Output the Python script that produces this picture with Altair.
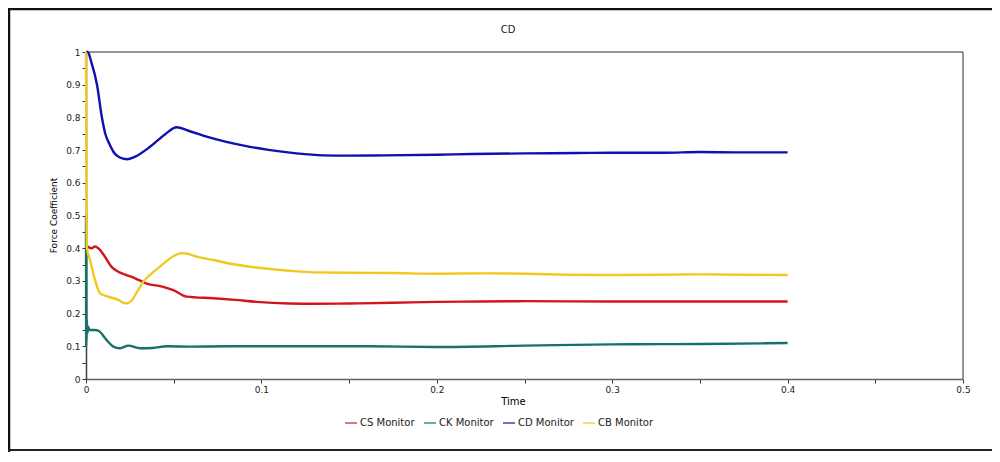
import altair as alt
import pandas as pd

# ---- data ----
series_names = ["CS Monitor", "CK Monitor", "CD Monitor", "CB Monitor"]
series_colors = ["#d3141c", "#17706a", "#1010b0", "#f2c81e"]
chart_title = "CD"

cs_t = [0, 0.0004, 0.003, 0.0051, 0.007, 0.0108, 0.0146, 0.0184, 0.023, 0.028, 0.0346, 0.044,
        0.0498, 0.0574, 0.0726, 0.085, 0.0973, 0.116, 0.13, 0.15, 0.175, 0.2, 0.225, 0.25, 0.3, 0.35, 0.4]
cs_v = [0.40, 0.405, 0.40, 0.405, 0.40, 0.374, 0.343, 0.328, 0.318, 0.308, 0.292, 0.282,
        0.272, 0.252, 0.247, 0.242, 0.236, 0.231, 0.230, 0.231, 0.233, 0.236, 0.237, 0.238, 0.237, 0.237, 0.237]

ck_t = [0, 0.0001, 0.0002, 0.0003, 0.0005, 0.0008, 0.0012, 0.002, 0.005, 0.007, 0.0118, 0.0156,
        0.0194, 0.0241, 0.0308, 0.038, 0.046, 0.06, 0.08, 0.1, 0.13, 0.16, 0.2, 0.25, 0.3, 0.35, 0.4]
ck_v = [0.5, 0.1, 0.4, 0.12, 0.18, 0.14, 0.16, 0.15, 0.15, 0.148, 0.119, 0.099,
        0.094, 0.102, 0.094, 0.095, 0.100, 0.099, 0.100, 0.100, 0.100, 0.100, 0.098, 0.102, 0.106, 0.107, 0.110]

cd_t = [0, 0.001, 0.003, 0.0063, 0.009, 0.011, 0.0137, 0.016, 0.019, 0.0232, 0.028, 0.0365, 0.045,
        0.0517, 0.058, 0.0688, 0.08, 0.0935, 0.105, 0.12, 0.135, 0.15, 0.17, 0.2, 0.22, 0.25, 0.28,
        0.3, 0.33, 0.35, 0.37, 0.4]
cd_v = [1.0, 1.0, 0.97, 0.899, 0.802, 0.75, 0.715, 0.692, 0.678, 0.672, 0.68, 0.71, 0.748,
        0.770, 0.76, 0.741, 0.725, 0.710, 0.700, 0.690, 0.684, 0.683, 0.684, 0.686, 0.688, 0.690, 0.691,
        0.692, 0.692, 0.694, 0.693, 0.693]

cb_t = [0, 0.0002, 0.0004, 0.0023, 0.0051, 0.008, 0.0127, 0.0184, 0.0228, 0.026, 0.0295, 0.033,
        0.038, 0.044, 0.05, 0.0545, 0.058, 0.062, 0.0725, 0.085, 0.0973, 0.116, 0.13, 0.15, 0.175,
        0.2, 0.225, 0.25, 0.275, 0.3, 0.325, 0.35, 0.375, 0.4]
cb_v = [1.0, 0.7, 0.405, 0.364, 0.303, 0.262, 0.252, 0.242, 0.231, 0.24, 0.27, 0.30,
        0.325, 0.352, 0.376, 0.385, 0.383, 0.376, 0.364, 0.350, 0.341, 0.331, 0.326, 0.325, 0.324,
        0.322, 0.323, 0.322, 0.319, 0.318, 0.319, 0.320, 0.319, 0.318]

x_ticks = [round(i * 0.05, 2) for i in range(11)]
y_ticks = [round(i * 0.05, 2) for i in range(21)]

rows = []
for name, ts, vs in zip(series_names, [cs_t, ck_t, cd_t, cb_t], [cs_v, ck_v, cd_v, cb_v]):
    for t, v in zip(ts, vs):
        rows.append({"Time": t, "Value": v, "Series": name})
df = pd.DataFrame(rows)

FONT = "DejaVu Sans"
label_expr = "abs(datum.value*10 - round(datum.value*10)) < 0.001 ? format(datum.value, '~g') : ''"

lines = alt.Chart(df).mark_line(strokeWidth=2.4, interpolate="monotone").encode(
    x=alt.X("Time:Q",
            scale=alt.Scale(domain=[0, 0.5], nice=False, zero=False),
            axis=alt.Axis(values=x_ticks, labelExpr=label_expr, title="Time",
                          titleX=427, titleY=22, titleBaseline="middle",
                          titleFontSize=10, titleFontWeight="normal", titleFont=FONT,
                          labelFont=FONT, labelFontSize=9, labelColor="#222",
                          tickSize=4, tickColor="#333", domainColor="#606060",
                          domainWidth=1.5, labelPadding=2, grid=False, labelFlush=False)),
    y=alt.Y("Value:Q",
            scale=alt.Scale(domain=[0, 1], nice=False),
            axis=alt.Axis(values=y_ticks, labelExpr=label_expr, title="Force Coefficient",
                          titleX=-33, titleY=163, titleBaseline="middle", titleAngle=-90,
                          titleFontSize=9, titleFontWeight="normal", titleFont=FONT,
                          labelFont=FONT, labelFontSize=9, labelColor="#222",
                          tickSize=4, tickColor="#333", domainColor="#404040",
                          domainWidth=1.5, labelPadding=2, grid=False, labelFlush=False)),
    color=alt.Color("Series:N",
                    scale=alt.Scale(domain=series_names, range=series_colors),
                    legend=alt.Legend(title=None, orient="none", direction="horizontal",
                                      legendX=258, legendY=364, symbolType="stroke",
                                      symbolSize=144, symbolStrokeWidth=1.2,
                                      labelFont=FONT, labelFontSize=10, labelColor="#222",
                                      columnPadding=6, labelOffset=2, padding=0)),
)

one = alt.Data(values=[{"title": chart_title}])
title_mark = alt.Chart(one).mark_text(font=FONT, fontSize=10, color="#222",
                                      align="center", baseline="middle").encode(
    x=alt.value(422), y=alt.value(-22), text="title:N")
plot_top = alt.Chart(one).mark_rule(color="#777", strokeWidth=1.5).encode(
    x=alt.value(0), x2=alt.value(877), y=alt.value(0))
plot_right = alt.Chart(one).mark_rule(color="#777", strokeWidth=1.5).encode(
    x=alt.value(877), y=alt.value(0), y2=alt.value(327))
frame_top = alt.Chart(one).mark_rule(color="#111", strokeWidth=2.5).encode(
    x=alt.value(-78), x2=alt.value(906), y=alt.value(-43))
frame_left = alt.Chart(one).mark_rule(color="#111", strokeWidth=2.5).encode(
    x=alt.value(-77), y=alt.value(-44), y2=alt.value(402))
frame_bottom = alt.Chart(one).mark_rule(color="#222", strokeWidth=2).encode(
    x=alt.value(-78), x2=alt.value(906), y=alt.value(398))

chart = alt.layer(plot_top, plot_right, lines, title_mark, frame_top, frame_left, frame_bottom).properties(
    width=877, height=327,
    autosize=alt.AutoSizeParams(type="none"),
    padding={"left": 78, "top": 44, "right": 29, "bottom": 73},
).configure_view(stroke=None).configure(background="white")

chart.save("out.html", embed_options={"renderer": "svg", "actions": False})
